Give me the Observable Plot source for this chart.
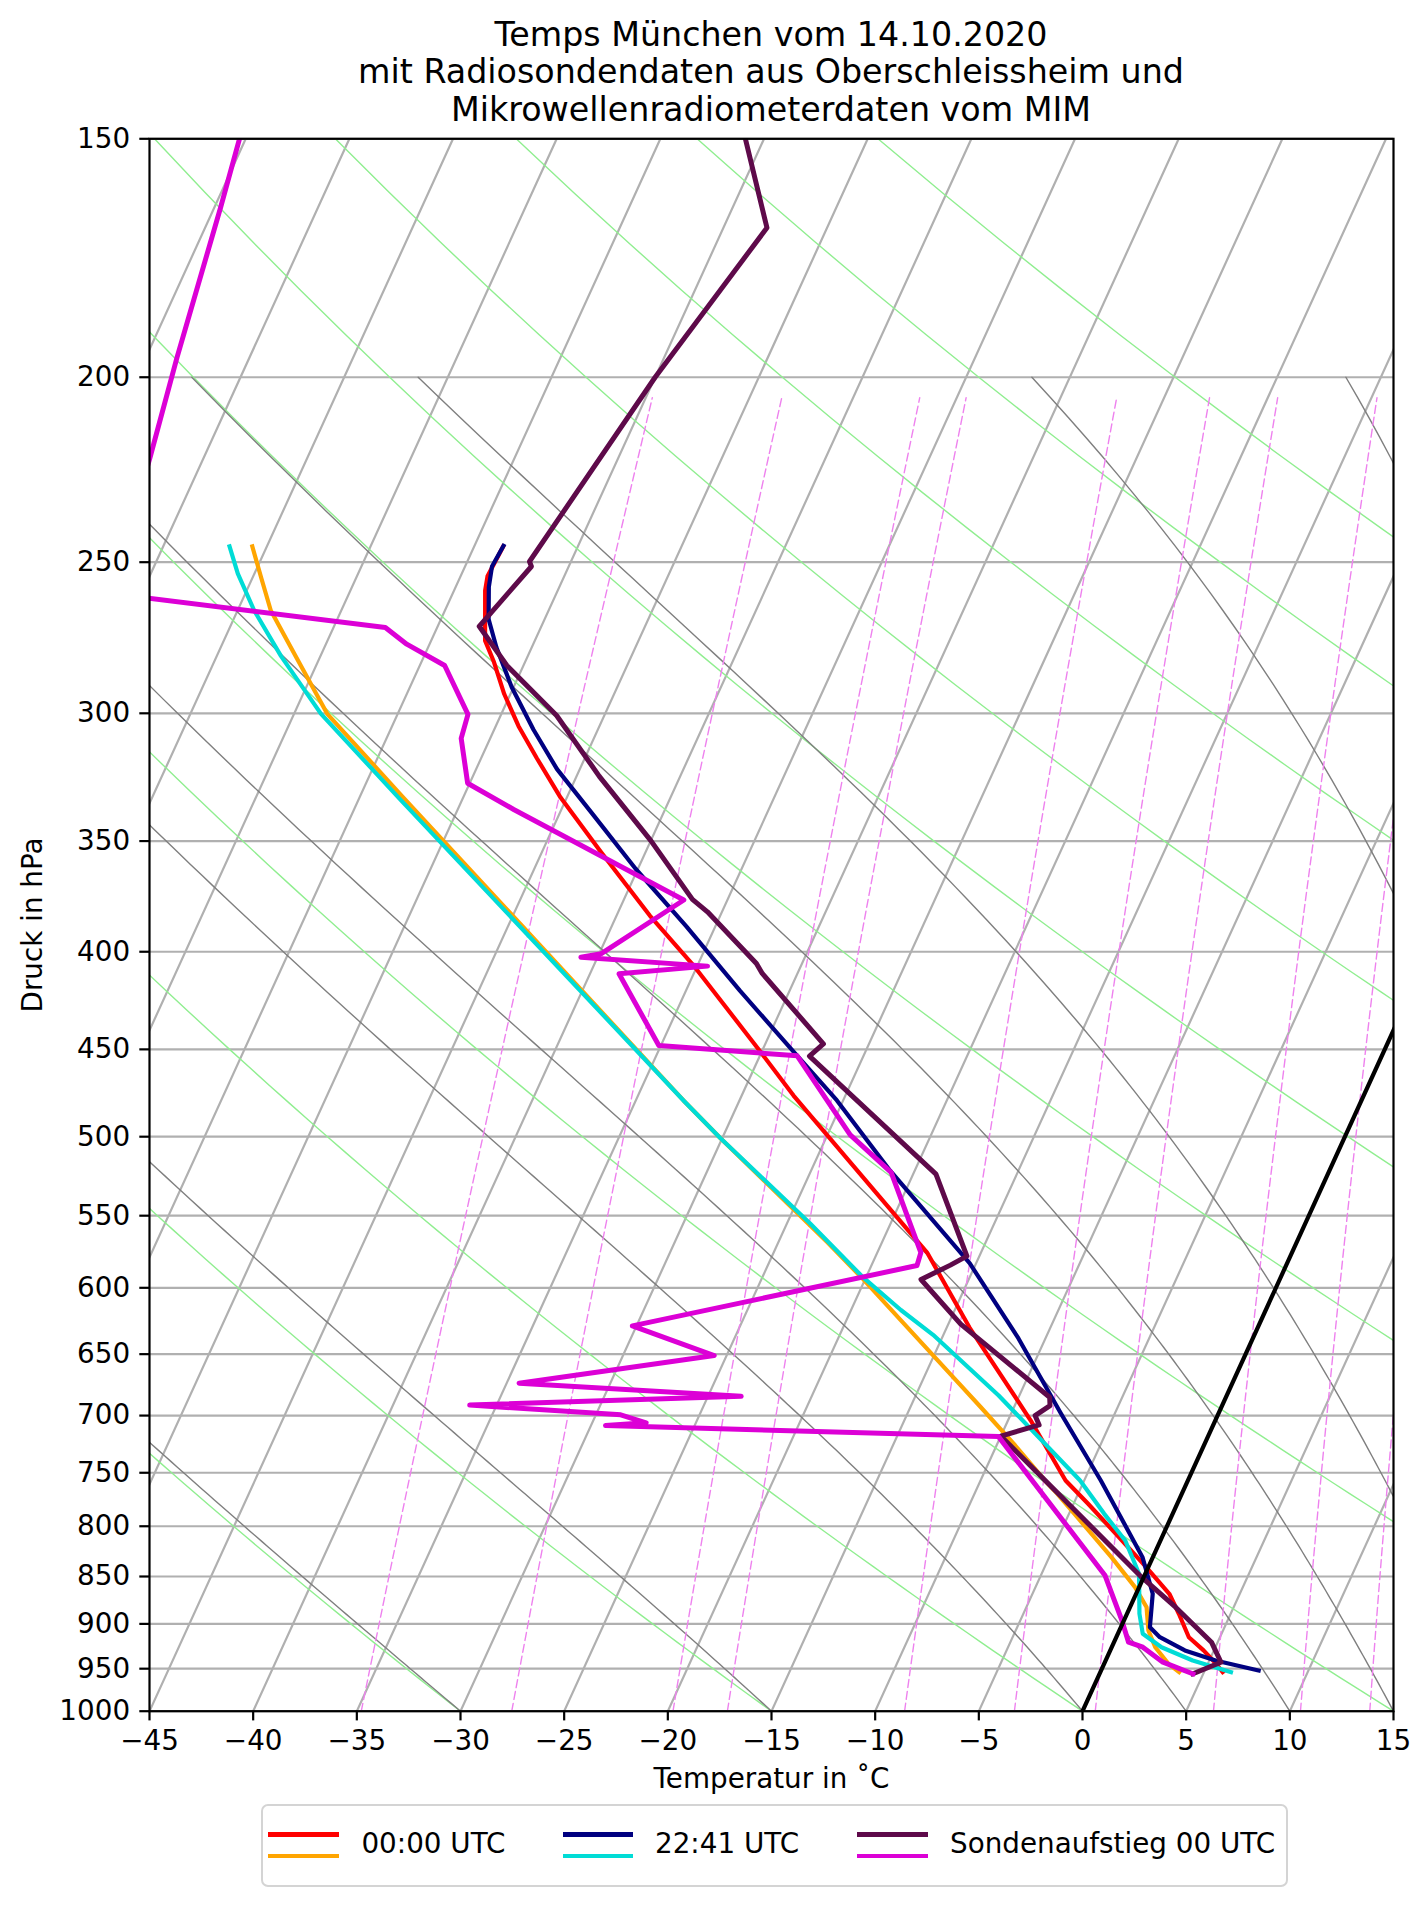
<!DOCTYPE html>
<html><head><meta charset="utf-8">
<script src="https://cdn.jsdelivr.net/npm/d3@7"></script>
<script src="https://cdn.jsdelivr.net/npm/@observablehq/plot@0.6"></script>
<style>
body{margin:0;background:#fff;font-family:"DejaVu Sans",sans-serif;color:#000;}
#wrap{position:relative;width:1427px;height:1907px;}
#title{position:absolute;left:149px;top:0;width:1244px;height:116px;overflow:visible;text-align:center;font-size:33.3px;line-height:37.5px;padding-top:15.5px;box-sizing:border-box;white-space:nowrap;}
#chart{position:absolute;left:0;top:116px;}
#legendbox{position:absolute;left:261px;top:1804px;width:1027px;height:83px;border:2.5px solid #d4d4d4;border-radius:7px;box-sizing:border-box;}
.ln{position:absolute;width:70.5px;}
.lt{position:absolute;font-size:27.8px;line-height:30px;white-space:nowrap;}
</style></head>
<body>
<div id="wrap">
  <div id="title">Temps München vom 14.10.2020<br>mit Radiosondendaten aus Oberschleissheim und<br>Mikrowellenradiometerdaten vom MIM</div>
  <div id="chart"></div>
  <div id="legendbox"></div>
  <div id="legend"></div>
</div>
<script>
// ---------- ticks ----------
const pressureTicks = [150,200,250,300,350,400,450,500,550,600,650,700,750,800,850,900,950,1000];
const tempTicks = [-45,-40,-35,-30,-25,-20,-15,-10,-5,0,5,10,15];

// ---------- background line parameters ----------
const isothermT = [-75,-70,-65,-60,-55,-50,-45,-40,-35,-30,-25,-20,-15,-10,-5,0,5,10,15];
const dryT0 = [-30,-15,0,15,30,45,60,75,90,105,120];          // °C at 1000 hPa
const moistT0 = [-30,-15,0,5,10,15,20,30,35];                  // °C at 1000 hPa
const mixingW = [0.2,0.4,0.8,1,2,3,4,6,8,10];                  // g/kg

// ---------- Radiosonde 00 UTC (Oberschleissheim) ----------
const sondeP = [150,167,200,249.8,251.3,270.1,283.2,300.8,323.7,349.8,375.5,381.2,405.7,410.6,447,453.7,523.1,577.5,583.8,594,626.9,684.7,691.6,700,707.9,717.5,850.7,882.1,920.1,927.5,942.6,955.9];
const sondeT = [-50.9,-47.9,-50.0,-52.0,-51.8,-53.0,-50.8,-47.3,-43.9,-40.0,-36.7,-35.7,-32.2,-31.7,-27.2,-27.6,-18.9,-15.6,-16.2,-17.3,-14.4,-8.5,-8.3,-8.8,-8.4,-10.0,-0.1,2.2,4.7,5.0,5.6,4.5];
const sondeTdP = [150,162.9,195.2,220.2,259.6,270.5,276,283.2,300.4,309.2,326.4,336.9,375.8,400.9,402.7,407,410.8,447.9,453.5,498.9,522,575,584.1,628.2,651.1,673.2,683.9,691.2,699.4,706.1,708.4,718,849,896.3,920.1,925.7,942.6,955.9];
const sondeTd = [-75.3,-74.7,-73.5,-72.6,-71.5,-57.5,-56.1,-53.8,-51.6,-51.4,-50.1,-47.3,-37.1,-39.9,-40.8,-34.5,-38.6,-35.1,-28.2,-23.9,-21.1,-17.9,-17.8,-30.2,-25.6,-34.4,-23.4,-36.3,-28.8,-27.4,-29.3,-10.1,-1.9,-0.1,0.7,1.5,2.8,4.5];

// ---------- Radiometer 00:00 UTC ----------
const r00P = [245.3,254.3,258.7,274.8,282,293.1,304.7,316.8,332.1,354.3,382.9,407.4,449.1,475.8,575,629.5,704.2,757,778.6,807.3,840.5,867.9,889.1,914.6,929.3,944.4,954];
const r00T = [-53.6,-53.7,-53.5,-52.4,-51.5,-50.3,-48.9,-47.3,-45.3,-42.2,-38.4,-35.1,-30.3,-27.5,-17.6,-13.9,-8.9,-5.9,-4.3,-2.3,-0.1,1.6,2.5,3.5,4.5,5.4,5.9];
const r00TdP = [245.3,254.6,265,280,300.2,331.4,478.6,500.8,568.3,592.7,623.7,665.8,693,724.3,757,769.3,830.4,861,882.1,907.2,925.7,944.4,954];
const r00Td = [-65.7,-64.6,-63.4,-61.2,-58.4,-53.0,-32.7,-30.1,-22.6,-20.2,-17.4,-13.8,-11.6,-9.2,-6.9,-6.0,-2.0,-0.2,0.8,1.4,2.1,3.1,3.8];

// ---------- Radiometer 22:41 UTC ----------
const r22P = [245.1,251.3,257.6,267.8,277.1,290.6,306,320.9,339.4,362,387.9,419.2,451,478.6,520.8,582.6,637.8,698.2,757,830.4,867.9,903.6,914.6,929.3,940.7,952.1];
const r22T = [-53.6,-53.7,-53.4,-52.7,-51.7,-50.1,-48.1,-46.1,-43.3,-40.1,-36.4,-32.4,-28.5,-25.3,-21.2,-15.3,-11.3,-7.6,-4.2,-0.5,0.8,1.4,2.1,3.6,5.3,7.6];
const r22TdP = [245.3,253.5,265,280,300.2,332.8,478.6,500.8,555,591.9,616.3,635,683.2,757,788.1,813.9,847.2,889.1,910.8,925.7,940.7,954];
const r22Td = [-66.8,-65.8,-64.2,-61.9,-58.7,-53.0,-32.7,-30.1,-23.9,-20.2,-17.6,-15.5,-11.0,-5.2,-3.3,-1.7,-0.3,0.6,1.2,2.4,4.2,6.3];

// ---------- legend ----------
const legendLabels = ["00:00 UTC","22:41 UTC","Sondenaufstieg 00 UTC"];
const colRed="#ff0000", colOrange="#ffa500", colNavy="#000080", colCyan="#00dcd6", colMaroon="#5e0a4a", colMagenta="#dc00d6";

// ---------- skew-T transform (rotation 30° in axes space) ----------
const K = 60*Math.tan(Math.PI/6)/Math.log(1000/150);
const skewX = (T,p) => T + K*Math.log(1000/p);
const prof = (P,T,id) => P.map((p,i)=>({x: skewX(T[i],p), y: p, id}));

// isotherms
const isoData = isothermT.flatMap(T => [1000,150].map(p => ({x: skewX(T,p), y: p, id: T})));
// dry adiabats
const kappa = 0.28571;
const dryP = d3.range(1000, 149, -10);
const dryData = dryT0.flatMap(t0 => dryP.map(p => ({x: skewX((t0+273.15)*Math.pow(p/1000,kappa)-273.15, p), y: p, id: t0})));
// moist adiabats
function dTdp(p,T){
  const Rd=287.04749, Cp=1004.6662, Lv=2.50084e6, eps=0.6219569;
  const es = 6.112*Math.exp(17.67*(T-273.15)/(T-29.65));
  const rs = eps*es/(p-es);
  return (Rd*T + Lv*rs)/(Cp + Lv*Lv*rs*eps/(Rd*T*T))/p;
}
function moistLine(t0){
  const out=[]; let T=t0+273.15, p=1000; const h=-5;
  out.push({x: skewX(T-273.15,p), y:p, id:t0});
  while (p > 200.01) {
    const k1=dTdp(p,T), k2=dTdp(p+h/2,T+h*k1/2), k3=dTdp(p+h/2,T+h*k2/2), k4=dTdp(p+h,T+h*k3);
    T += h*(k1+2*k2+2*k3+k4)/6; p += h;
    out.push({x: skewX(T-273.15,p), y:p, id:t0});
  }
  return out;
}
const moistData = moistT0.flatMap(moistLine);
// mixing ratio lines
const mixP = d3.range(1000, 205, -10).concat([205]);
const mixData = mixingW.flatMap(w => mixP.map(p => {
  const ww = w/1000, e = p*ww/(0.6219569+ww), l = Math.log(e/6.112);
  const Td = 243.5*l/(17.67-l);
  return {x: skewX(Td,p), y: p, id: w};
}));
const zeroLine = [1000,150].map(p => ({x: skewX(0,p), y: p}));

const series = [
  {d: prof(r00P,r00T,"r00T"), c: colRed, w: 4.2},
  {d: prof(r00TdP,r00Td,"r00Td"), c: colOrange, w: 4.2},
  {d: prof(r22P,r22T,"r22T"), c: colNavy, w: 4.2},
  {d: prof(r22TdP,r22Td,"r22Td"), c: colCyan, w: 4.2},
  {d: prof(sondeP,sondeT,"sT"), c: colMaroon, w: 5},
  {d: prof(sondeTdP,sondeTd,"sTd"), c: colMagenta, w: 5}
];

const fmt = d => d < 0 ? "\u2212" + (-d) : String(d);

const chart = Plot.plot({
  width: 1427, height: 1684,
  marginLeft: 149, marginRight: 34, marginTop: 22.3, marginBottom: 89.3,
  style: {fontFamily: "DejaVu Sans", fontSize: "27.8px", color: "black", background: "transparent"},
  x: {domain: [-45, 15]},
  y: {type: "log", domain: [1000, 150]},
  marks: [
    Plot.ruleY(pressureTicks, {stroke: "#b0b0b0", strokeWidth: 2.2}),
    Plot.line(isoData, {x: "x", y: "y", z: "id", stroke: "#b0b0b0", strokeWidth: 2.2, clip: true}),
    Plot.line(dryData, {x: "x", y: "y", z: "id", stroke: "#90ee90", strokeWidth: 1.4, clip: true}),
    Plot.line(moistData, {x: "x", y: "y", z: "id", stroke: "#7f7f7f", strokeWidth: 1.4, clip: true}),
    Plot.line(mixData, {x: "x", y: "y", z: "id", stroke: "#ee82ee", strokeWidth: 1.4, strokeDasharray: "8,4", clip: true}),
    ...series.map(s => Plot.line(s.d, {x: "x", y: "y", stroke: s.c, strokeWidth: s.w, strokeLinejoin: "round", strokeLinecap: "square", clip: true})),
    Plot.line(zeroLine, {x: "x", y: "y", stroke: "black", strokeWidth: 4.2, clip: true}),
    Plot.frame({stroke: "black", strokeWidth: 2.2}),
    Plot.axisX(tempTicks, {anchor: "bottom", tickSize: 9.7, tickPadding: 9.7, tickFormat: fmt, fontSize: 27.8, strokeWidth: 2.2, label: null}),
    Plot.axisY(pressureTicks, {anchor: "left", tickSize: 9.7, tickPadding: 9.7, tickFormat: d => String(d), fontSize: 27.8, strokeWidth: 2.2, label: null}),
    Plot.text(["Temperatur in \u02DAC"], {frameAnchor: "bottom", dy: 77, fontSize: 27.8, textAnchor: "middle", text: d => d}),
    Plot.text(["Druck in hPa"], {frameAnchor: "left", dx: -116, rotate: -90, fontSize: 27.8, textAnchor: "middle", text: d => d})
  ]
});
document.getElementById("chart").appendChild(chart);

// legend (HTML below the chart)
const leg = document.getElementById("legend");
const entries = [
  {x: 268, tx: 361.4, c1: colRed, c2: colOrange, w: 4.2},
  {x: 562.7, tx: 655, c1: colNavy, c2: colCyan, w: 4.2},
  {x: 857, tx: 950, c1: colMaroon, c2: colMagenta, w: 4.2}
];
entries.forEach((e,i) => {
  [[e.c1,1834.5],[e.c2,1855.7]].forEach(([c,y]) => {
    const d = document.createElement("div"); d.className = "ln";
    d.style.left = e.x+"px"; d.style.top = (y-e.w/2)+"px"; d.style.height = e.w+"px"; d.style.background = c;
    leg.appendChild(d);
  });
  const t = document.createElement("div"); t.className = "lt";
  t.style.left = e.tx+"px"; t.style.top = "1828.8px"; t.textContent = legendLabels[i];
  leg.appendChild(t);
});
</script>
</body></html>
